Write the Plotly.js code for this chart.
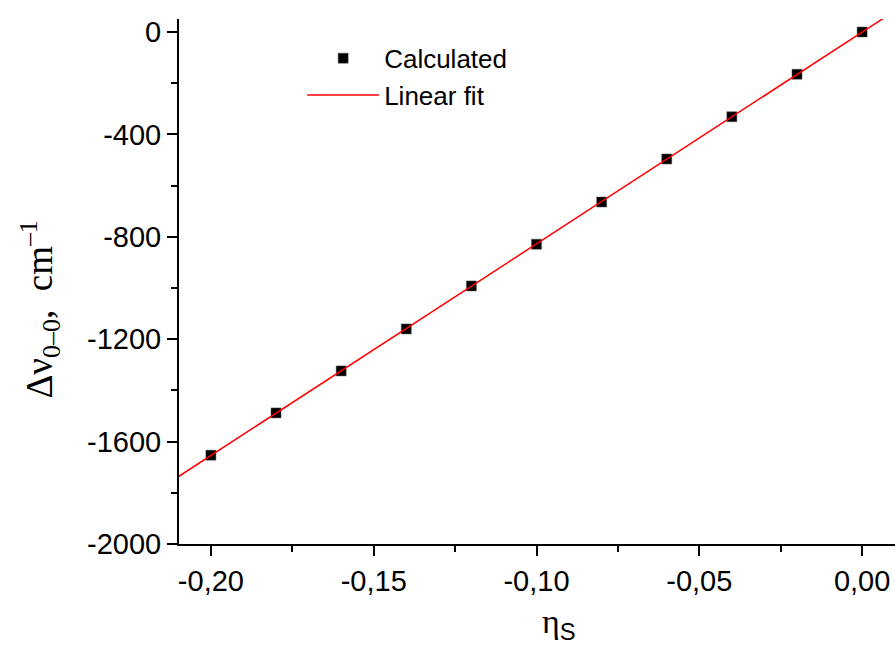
<!DOCTYPE html>
<html>
<head>
<meta charset="utf-8">
<script src="https://cdn.plot.ly/plotly-3.0.1.min.js"></script>
<style>html,body{margin:0;padding:0;background:#fff;}#chart{width:895px;height:646px;}</style>
</head>
<body>
<div id="chart"></div>
<script>
// Data
const etaS = [-0.20, -0.18, -0.16, -0.14, -0.12, -0.10, -0.08, -0.06, -0.04, -0.02, 0.00];
const deltaNu = [-1653, -1488, -1324, -1160, -992, -829, -664, -496, -331, -165, 0];
const xTickVals = [-0.20, -0.15, -0.10, -0.05, 0.00];
const xTickText = ["-0,20", "-0,15", "-0,10", "-0,05", "0,00"];
const yTickVals = [0, -400, -800, -1200, -1600, -2000];
const yTickText = ["0", "-400", "-800", "-1200", "-1600", "-2000"];
const fitXRange = [-0.22, 0.02];
const xTitle = 'η<sub><span style="font-family:Liberation Sans, Arial, sans-serif">S</span></sub>';
const yTitle = 'Δν<sub>0–0</sub>,\u00a0\u00a0cm<sup>–1</sup>';

// least squares fit
const n = etaS.length;
const mx = etaS.reduce((a, b) => a + b, 0) / n;
const my = deltaNu.reduce((a, b) => a + b, 0) / n;
let sxy = 0, sxx = 0;
for (let i = 0; i < n; i++) { sxy += (etaS[i] - mx) * (deltaNu[i] - my); sxx += (etaS[i] - mx) ** 2; }
const slope = sxy / sxx, intercept = my - slope * mx;
const fitY = fitXRange.map(x => intercept + slope * x);

const traces = [
  {x: etaS, y: deltaNu, type: 'scatter', mode: 'markers', name: 'Calculated',
   marker: {symbol: 'square', size: 10, color: '#000', line: {width: 0.5, color: '#555'}}},
  {x: fitXRange, y: fitY, type: 'scatter', mode: 'lines', name: 'Linear fit',
   line: {color: '#ff0000', width: 1.5}}
];

const axisCommon = {
  showline: true, linecolor: '#000', linewidth: 2, mirror: false,
  showgrid: false, zeroline: false, ticks: 'outside', ticklen: 10, tickwidth: 2, tickcolor: '#000',
  tickfont: {family: 'Liberation Sans, Arial, sans-serif', size: 29, color: '#000'},
  tickmode: 'array'
};

const layout = {
  width: 895, height: 646,
  margin: {l: 179, r: 0, t: 19, b: 102, pad: 0},
  paper_bgcolor: '#fff', plot_bgcolor: '#fff',
  showlegend: true,
  legend: {x: 0.172, y: 0.97, xanchor: 'left', yanchor: 'top', bgcolor: 'rgba(0,0,0,0)',
           font: {family: 'Liberation Sans, Arial, sans-serif', size: 26, color: '#000'},
           itemwidth: 72, tracegroupgap: 0},
  xaxis: Object.assign({}, axisCommon, {
    range: [-0.2098, 0.0101], tickvals: xTickVals, ticktext: xTickText,
    minor: {ticks: 'outside', ticklen: 6, tickwidth: 2, tickcolor: '#000', dtick: 0.025, tick0: 0}
  }),
  yaxis: Object.assign({}, axisCommon, {
    range: [-2000, 50.8], tickvals: yTickVals, ticktext: yTickText,
    minor: {ticks: 'outside', ticklen: 6, tickwidth: 2, tickcolor: '#000', dtick: 200, tick0: 0}
  }),
  annotations: [
    {text: xTitle, xref: 'paper', yref: 'paper', x: 0.531, y: -0.152, xanchor: 'center', yanchor: 'middle',
     showarrow: false, font: {family: 'Liberation Serif, Times New Roman, serif', size: 34, color: '#000'}},
    {text: yTitle, xref: 'paper', yref: 'paper', x: -0.194, y: 0.447, xanchor: 'center', yanchor: 'middle',
     textangle: -90, showarrow: false, font: {family: 'Liberation Serif, Times New Roman, serif', size: 37, color: '#000'}}
  ]
};

Plotly.newPlot('chart', traces, layout, {displayModeBar: false, staticPlot: true});
</script>
</body>
</html>
